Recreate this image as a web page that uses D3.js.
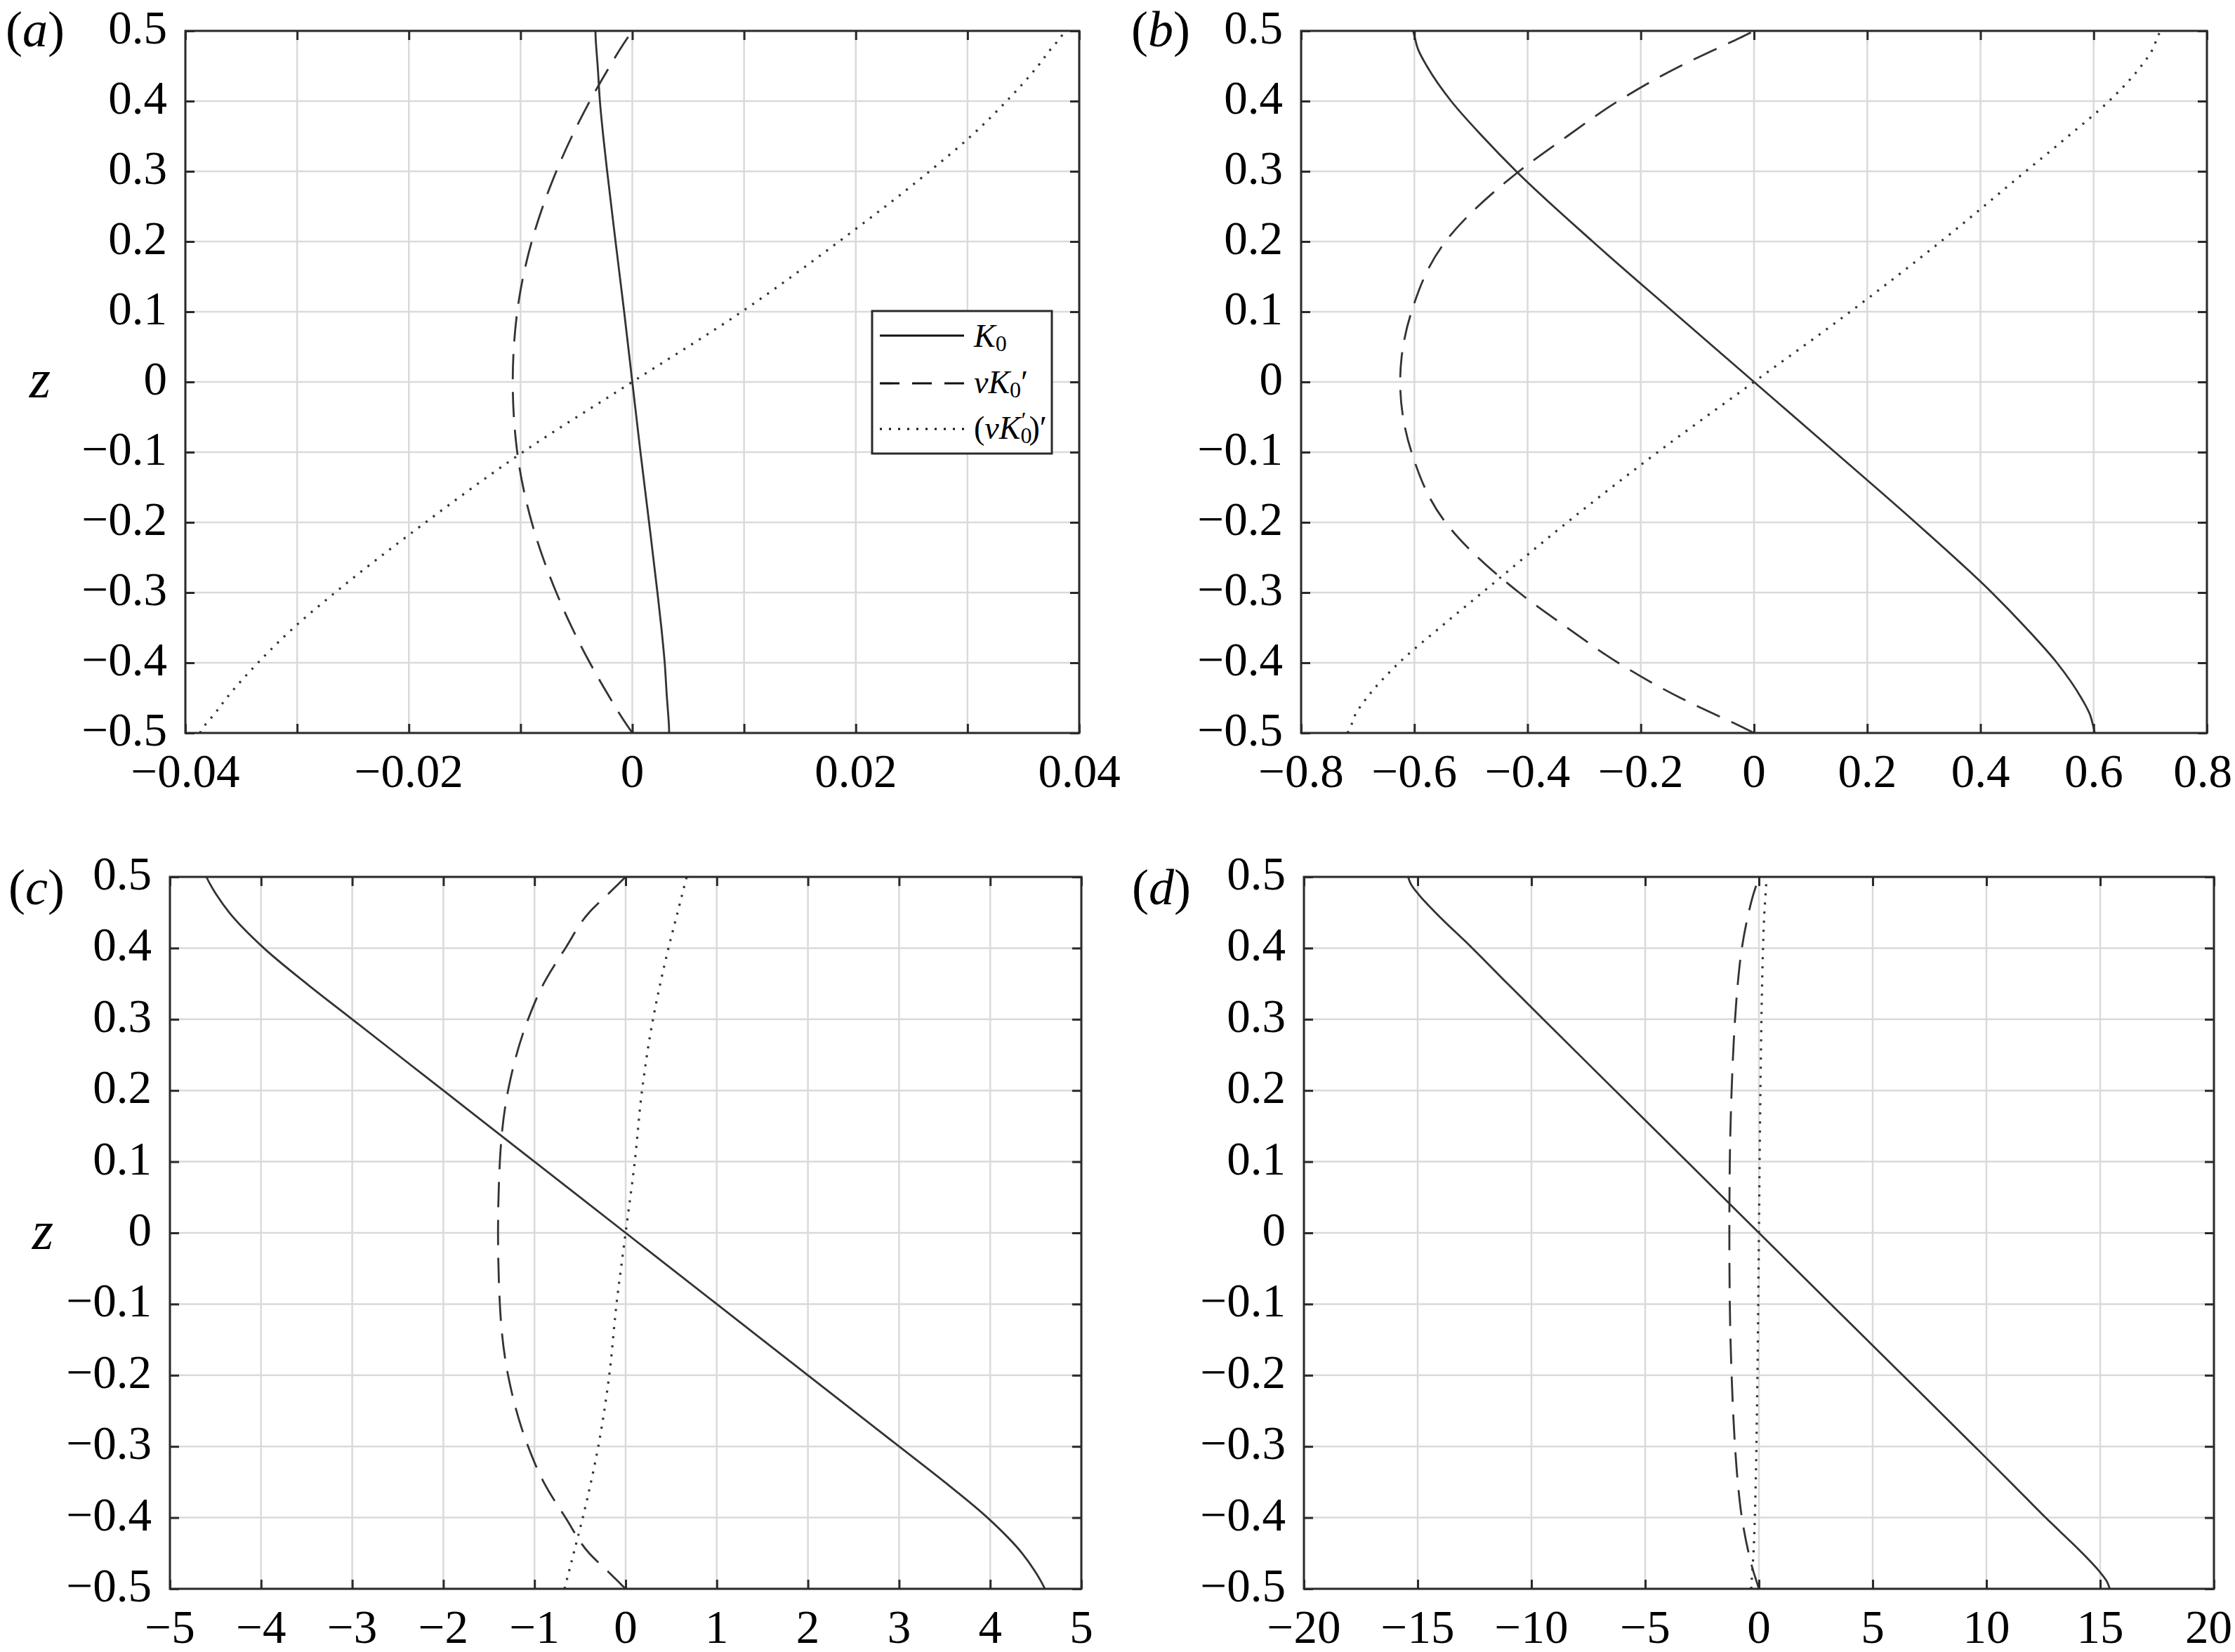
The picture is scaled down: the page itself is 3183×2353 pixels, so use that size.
<!DOCTYPE html>
<html>
<head>
<meta charset="utf-8">
<script src="https://cdn.jsdelivr.net/npm/d3@7"></script>
<style>
  html, body { margin: 0; padding: 0; background: #fff; }
  svg { display: block; }
  text { font-family: "Liberation Serif", "Times New Roman", serif; fill: #000; }
</style>
</head>
<body>
<svg id="chart" width="3183" height="2353"></svg>
<script>
// ---------------- data ----------------
const zValues = [-0.5, -0.49, -0.475, -0.45, -0.4, -0.35, -0.3, -0.2, -0.1, 0,
                 0.1, 0.2, 0.3, 0.35, 0.4, 0.45, 0.475, 0.49, 0.5];

// panel (a)
const aK0  = [0.0033, 0.00328, 0.00322, 0.0031, 0.0029, 0.0026, 0.00225, 0.0015, 0.00073, 0,
              -0.00073, -0.0015, -0.00225, -0.0026, -0.0029, -0.0031, -0.00322, -0.00328, -0.0033];
const aDash = [0, -0.00043, -0.00105, -0.002, -0.0038, -0.0054, -0.0068, -0.009, -0.0103, -0.0107,
               -0.0103, -0.009, -0.0068, -0.0054, -0.0038, -0.002, -0.00105, -0.00043, 0];
const aDot = [-0.0387, -0.0383, -0.0375, -0.0363, -0.0335, -0.0303, -0.0266, -0.0185, -0.0098, 0,
              0.0098, 0.0185, 0.0266, 0.0303, 0.0335, 0.0363, 0.0375, 0.0383, 0.0387];

// panel (b)
const bK0  = [0.602, 0.599, 0.594, 0.578, 0.535, 0.48, 0.42, 0.285, 0.143, 0,
              -0.143, -0.285, -0.42, -0.48, -0.535, -0.578, -0.594, -0.599, -0.602];
const bDash = [0, -0.025, -0.065, -0.13, -0.24, -0.33, -0.415, -0.545, -0.605, -0.625,
               -0.605, -0.545, -0.415, -0.33, -0.24, -0.13, -0.065, -0.025, 0];
const bDot = [-0.718, -0.712, -0.705, -0.684, -0.627, -0.555, -0.48, -0.33, -0.17, 0,
              0.17, 0.33, 0.48, 0.555, 0.627, 0.684, 0.705, 0.712, 0.718];

// panel (c)
const cK0  = [4.6, 4.56, 4.49, 4.35, 3.97, 3.5, 3.0, 2.0, 1.0, 0,
              -1.0, -2.0, -3.0, -3.5, -3.97, -4.35, -4.49, -4.56, -4.6];
const cDash = [0, -0.08, -0.2, -0.4, -0.66, -0.9, -1.07, -1.29, -1.38, -1.4,
               -1.38, -1.29, -1.07, -0.9, -0.66, -0.4, -0.2, -0.08, 0];
const cDot = [-0.67, -0.65, -0.62, -0.57, -0.47, -0.38, -0.3, -0.18, -0.1, 0,
              0.1, 0.18, 0.3, 0.38, 0.47, 0.57, 0.62, 0.65, 0.67];

// panel (d)
const dK0  = [15.42, 15.3, 14.95, 14.22, 12.6, 11.05, 9.48, 6.32, 3.16, 0,
              -3.16, -6.32, -9.48, -11.05, -12.6, -14.22, -14.95, -15.3, -15.42];
const dDash = [0, -0.1, -0.25, -0.45, -0.75, -0.93, -1.05, -1.2, -1.28, -1.3,
               -1.28, -1.2, -1.05, -0.93, -0.75, -0.45, -0.25, -0.1, 0];
const dDot = [-0.34, -0.32, -0.29, -0.24, -0.18, -0.14, -0.11, -0.065, -0.03, 0,
              0.03, 0.065, 0.11, 0.14, 0.18, 0.24, 0.29, 0.32, 0.34];

// ticks
const yTicks = [-0.5, -0.4, -0.3, -0.2, -0.1, 0, 0.1, 0.2, 0.3, 0.4, 0.5];
const yTickLabels = ["\u22120.5", "\u22120.4", "\u22120.3", "\u22120.2", "\u22120.1", "0",
                     "0.1", "0.2", "0.3", "0.4", "0.5"];
const aXTicks = [-0.04, -0.03, -0.02, -0.01, 0, 0.01, 0.02, 0.03, 0.04];
const aXLabels = ["\u22120.04", "", "\u22120.02", "", "0", "", "0.02", "", "0.04"];
const bXTicks = [-0.8, -0.6, -0.4, -0.2, 0, 0.2, 0.4, 0.6, 0.8];
const bXLabels = ["\u22120.8", "\u22120.6", "\u22120.4", "\u22120.2", "0", "0.2", "0.4", "0.6", "0.8"];
const cXTicks = [-5, -4, -3, -2, -1, 0, 1, 2, 3, 4, 5];
const cXLabels = ["\u22125", "\u22124", "\u22123", "\u22122", "\u22121", "0", "1", "2", "3", "4", "5"];
const dXTicks = [-20, -15, -10, -5, 0, 5, 10, 15, 20];
const dXLabels = ["\u221220", "\u221215", "\u221210", "\u22125", "0", "5", "10", "15", "20"];

const panelLetters = ["a", "b", "c", "d"];
const seriesNames = ["K0", "nuK0p", "nuK0pp"];

// ---------------- layout ----------------
const W = 3183, H = 2353;
const panels = [
  { letter: "a", box: [264, 1537, 44, 1044], xDom: [-0.04, 0.04], xt: aXTicks, xl: aXLabels,
    series: [aK0, aDash, aDot], zLabel: [57, 566], legend: true, lab: [8, 66] },
  { letter: "b", box: [1853, 3143, 44, 1044], xDom: [-0.8, 0.8], xt: bXTicks, xl: bXLabels,
    series: [bK0, bDash, bDot], zLabel: null, legend: false, lab: [1611, 66] },
  { letter: "c", box: [242, 1540, 1249, 2263], xDom: [-5, 5], xt: cXTicks, xl: cXLabels,
    series: [cK0, cDash, cDot], zLabel: [61, 1779], legend: false, lab: [12, 1288] },
  { letter: "d", box: [1857, 3153, 1249, 2263], xDom: [-20, 20], xt: dXTicks, xl: dXLabels,
    series: [dK0, dDash, dDot], zLabel: null, legend: false, lab: [1612, 1288] }
];

const styles = [
  { dash: null, width: 2.8 },
  { dash: "36,18", width: 2.8 },
  { dash: "3,10", width: 3.2 }
];
const curveColor = "#333";
const axisColor = "#2a2a2a";
const gridColor = "#dadada";
const tickFont = 67;

const svg = d3.select("#chart");
svg.append("rect").attr("width", W).attr("height", H).attr("fill", "#fff");

panels.forEach((p, pi) => {
  const [x0, x1, y0, y1] = p.box;
  const x = d3.scaleLinear().domain(p.xDom).range([x0, x1]);
  const y = d3.scaleLinear().domain([-0.5, 0.5]).range([y1, y0]);
  const g = svg.append("g");

  // grid
  g.append("g").selectAll("line").data(p.xt).join("line")
    .attr("x1", d => x(d)).attr("x2", d => x(d)).attr("y1", y0).attr("y2", y1)
    .attr("stroke", gridColor).attr("stroke-width", 2.5);
  g.append("g").selectAll("line").data(yTicks).join("line")
    .attr("x1", x0).attr("x2", x1).attr("y1", d => y(d)).attr("y2", d => y(d))
    .attr("stroke", gridColor).attr("stroke-width", 2.5);

  // curves
  const clipId = "clip" + p.letter;
  svg.append("clipPath").attr("id", clipId).append("rect")
    .attr("x", x0 - 2).attr("y", y0 - 2).attr("width", x1 - x0 + 4).attr("height", y1 - y0 + 4);
  const line = d3.line().x(d => x(d.v)).y(d => y(d.z)).curve(d3.curveMonotoneY);
  p.series.forEach((vals, si) => {
    const pts = zValues.map((z, i) => ({ z: z, v: vals[i] }));
    const path = g.append("path").datum(pts)
      .attr("clip-path", "url(#" + clipId + ")")
      .attr("d", line).attr("fill", "none")
      .attr("stroke", curveColor).attr("stroke-width", styles[si].width)
      .attr("class", seriesNames[si]);
    if (styles[si].dash) path.attr("stroke-dasharray", styles[si].dash);
  });

  // ticks (inward, on all four sides) via d3 axes
  const tick = 13;
  const bottomAx = d3.axisBottom(x).tickValues(p.xt).tickFormat("").tickSizeInner(-tick).tickSizeOuter(0);
  const topAx = d3.axisTop(x).tickValues(p.xt).tickFormat("").tickSizeInner(-tick).tickSizeOuter(0);
  const leftAx = d3.axisLeft(y).tickValues(yTicks).tickFormat("").tickSizeInner(-tick).tickSizeOuter(0);
  const rightAx = d3.axisRight(y).tickValues(yTicks).tickFormat("").tickSizeInner(-tick).tickSizeOuter(0);
  [[bottomAx, `translate(0,${y1})`], [topAx, `translate(0,${y0})`],
   [leftAx, `translate(${x0},0)`], [rightAx, `translate(${x1},0)`]].forEach(([ax, tr]) => {
    const a = g.append("g").attr("transform", tr).call(ax);
    a.select(".domain").remove();
    a.selectAll(".tick line").attr("stroke", axisColor).attr("stroke-width", 3);
  });

  // box
  g.append("rect").attr("x", x0).attr("y", y0).attr("width", x1 - x0).attr("height", y1 - y0)
    .attr("fill", "none").attr("stroke", axisColor).attr("stroke-width", 3);

  // tick labels
  const xl = g.append("g").selectAll("text")
    .data(p.xt.map((d, i) => ({ v: d, t: p.xl[i] })).filter(d => d.t !== ""))
    .join("text")
    .attr("x", d => x(d.v)).attr("y", y1 + 77)
    .attr("text-anchor", "middle").attr("font-size", tickFont)
    .text(d => d.t);
  // keep labels at the right edge inside the page
  xl.each(function () {
    const bb = this.getBBox();
    const over = bb.x + bb.width - (W - 4);
    if (over > 0) d3.select(this).attr("x", +d3.select(this).attr("x") - over);
  });
  g.append("g").selectAll("text").data(yTicks.map((d, i) => ({ v: d, t: yTickLabels[i] })))
    .join("text")
    .attr("x", x0 - 26).attr("y", d => y(d.v) + 18)
    .attr("text-anchor", "end").attr("font-size", tickFont)
    .text(d => d.t);

  // panel label
  const pl = svg.append("text").attr("x", p.lab[0]).attr("y", p.lab[1]).attr("font-size", 72);
  pl.append("tspan").text("(");
  pl.append("tspan").attr("font-style", "italic").text(panelLetters[pi]);
  pl.append("tspan").text(")");

  // z axis label
  if (p.zLabel) {
    svg.append("text").attr("x", p.zLabel[0]).attr("y", p.zLabel[1])
      .attr("text-anchor", "middle").attr("font-size", 78).attr("font-style", "italic").text("z");
  }

  // legend
  if (p.legend) {
    const lg = svg.append("g");
    lg.append("rect").attr("x", 1242).attr("y", 443).attr("width", 256).attr("height", 203)
      .attr("fill", "#fff").attr("stroke", axisColor).attr("stroke-width", 3);
    const rows = [478, 546, 611];
    rows.forEach((ry, i) => {
      const l = lg.append("line").attr("x1", 1253).attr("x2", 1373).attr("y1", ry).attr("y2", ry)
        .attr("stroke", "#111").attr("stroke-width", i === 2 ? 3 : 3.2);
      if (styles[i].dash) l.attr("stroke-dasharray", i === 1 ? "28,18" : "3,10");
    });
    const fs = 46, sub = 32;
    // K_0
    const t1 = lg.append("text").attr("x", 1387).attr("y", 494).attr("font-size", fs);
    t1.append("tspan").attr("font-style", "italic").text("K");
    t1.append("tspan").attr("font-size", sub).attr("dy", 6).text("0");
    // nu K_0'
    const t2 = lg.append("text").attr("x", 1387).attr("y", 560).attr("font-size", fs);
    t2.append("tspan").attr("font-style", "italic").text("\u03BDK");
    t2.append("tspan").attr("font-size", sub).attr("dy", 6).text("0");
    t2.append("tspan").attr("dy", -6).text("\u2032");
    // (nu K_0')'
    const t3 = lg.append("text").attr("x", 1387).attr("y", 625).attr("font-size", fs);
    t3.append("tspan").text("(");
    t3.append("tspan").attr("font-style", "italic").text("\u03BDK");
    t3.append("tspan").attr("font-size", sub).attr("dy", 6).text("0");
    t3.append("tspan").attr("font-size", sub).attr("dx", -15).attr("dy", -22).text("\u2032");
    t3.append("tspan").attr("dy", 16).attr("dx", 4).text(")");
    t3.append("tspan").text("\u2032");
  }
});
</script>
</body>
</html>
